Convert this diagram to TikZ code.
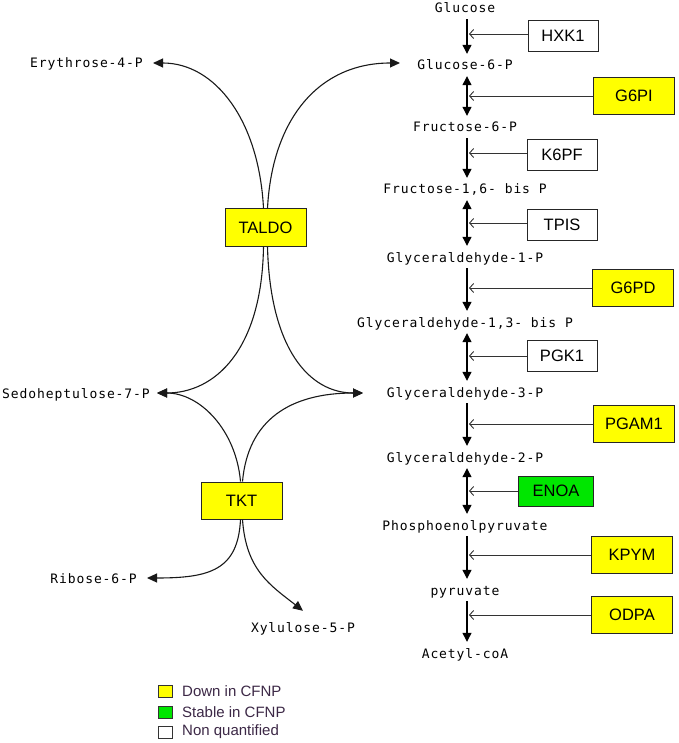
\documentclass[tikz,border=0pt]{standalone}
\usepackage{fontspec}
\setmainfont{Liberation Sans}
\newfontfamily\monof[LetterSpace=7]{DejaVu Sans Mono}
\usetikzlibrary{arrows.meta}
\definecolor{enzyellow}{RGB}{255,255,0}
\definecolor{enzgreen}{RGB}{0,230,0}
\definecolor{legtext}{RGB}{60,40,70}
\tikzset{
  lab/.style={font=\monof\fontsize{13}{15}\selectfont, text height=10pt, text depth=0pt, inner xsep=2pt, inner ysep=6pt},
  ebox/.style={draw=black!85, line width=1pt, fill=white, minimum width=70pt, minimum height=31pt, inner sep=0pt, font=\fontsize{16.5}{18}\selectfont},
  ybox/.style={ebox, fill=enzyellow, minimum width=81pt, minimum height=37pt},
  gbox/.style={ebox, fill=enzgreen, minimum width=75pt, minimum height=30pt},
  flow/.style={line width=1.2pt, -{Triangle[length=9pt,width=9pt]}},
  flowb/.style={line width=1.2pt, {Triangle[length=9pt,width=9pt]}-{Triangle[length=9pt,width=9pt]}},
  enz/.style={draw=black!80, line width=0.9pt, -{Straight Barb[length=4pt,width=9pt]}},
  cv/.style={draw=black!90, line width=1.1pt, -{Triangle[length=10pt,width=9pt]}},
  lsq/.style={draw=black!80, line width=1pt, minimum width=14pt, minimum height=12pt, inner sep=0pt},
  ltx/.style={anchor=west, text=legtext, font=\fontsize{15}{17}\selectfont, inner sep=0pt}
}
\begin{document}
\begin{tikzpicture}[x=1pt,y=-1pt]
\useasboundingbox (0,0) rectangle (678,743);
% axis coordinates
\coordinate (ax) at (467,0);
\coordinate (bx) at (469,0);
% metabolites
\node[lab] (glc) at (465,8) {Glucose};
\node[lab] (g6p) at (465,65) {Glucose-6-P};
\node[lab] (f6p) at (465,127) {Fructose-6-P};
\node[lab] (f16) at (465,189) {Fructose-1,6- bis P};
\node[lab] (g1p) at (465,257) {Glyceraldehyde-1-P};
\node[lab] (g13) at (465,322) {Glyceraldehyde-1,3- bis P};
\node[lab] (g3p) at (465,392) {Glyceraldehyde-3-P};
\node[lab] (g2p) at (465,457) {Glyceraldehyde-2-P};
\node[lab] (pep) at (465,525) {Phosphoenolpyruvate};
\node[lab] (pyr) at (465,590) {pyruvate};
\node[lab] (aco) at (465,653) {Acetyl-coA};
% left metabolites
\node[lab, anchor=east, inner xsep=10pt] (ery) at (153,63) {Erythrose-4-P};
\node[lab, anchor=east, inner xsep=7pt] (sedo) at (157,393) {Sedoheptulose-7-P};
\node[lab, anchor=east, inner xsep=10pt] (rib) at (147,578) {Ribose-6-P};
\node[lab] (xyl) at (303,627) {Xylulose-5-P};
\coordinate (g6pin) at (400,63);
\coordinate (g3pin) at (363,393);
% enzymes
\node[ebox] (hxk) at (563,36) {HXK1};
\node[ybox] (g6pi) at (634,96) {G6PI};
\node[ebox] (k6pf) at (562,155) {K6PF};
\node[ebox] (tpis) at (562,225) {TPIS};
\node[ybox] (g6pd) at (633,288) {G6PD};
\node[ebox] (pgk) at (562,356) {PGK1};
\node[ybox] (pgam) at (634,424) {PGAM1};
\node[gbox] (enoa) at (556,491) {ENOA};
\node[ybox] (kpym) at (632,555) {KPYM};
\node[ybox] (odpa) at (632,615) {ODPA};
\node[ybox] (taldo) at (265.5,227.5) {TALDO};
\node[ybox] (tkt) at (241.5,500.5) {TKT};
% main pathway
\draw[flow]  (glc.south -| ax) -- (g6p.north -| ax);
\draw[flowb] (g6p.south -| ax) -- (f6p.north -| ax);
\draw[flow]  (f6p.south -| ax) -- (f16.north -| ax);
\draw[flowb] (f16.south -| ax) -- (g1p.north -| ax);
\draw[flow]  (g1p.south -| ax) -- (g13.north -| ax);
\draw[flowb] (g13.south -| ax) -- (g3p.north -| ax);
\draw[flow]  (g3p.south -| ax) -- (g2p.north -| ax);
\draw[flowb] (g2p.south -| ax) -- (pep.north -| ax);
\draw[flow]  (pep.south -| ax) -- (pyr.north -| ax);
\draw[flow]  (pyr.south -| ax) -- (aco.north -| ax);
% enzyme connectors
\draw[enz] ([yshift=2pt]hxk.west) -- ([yshift=2pt]hxk.west -| bx);
\draw[enz] (g6pi.west) -- (g6pi.west -| bx);
\draw[enz] ([yshift=2pt]k6pf.west) -- ([yshift=2pt]k6pf.west -| bx);
\draw[enz] ([yshift=2pt]tpis.west) -- ([yshift=2pt]tpis.west -| bx);
\draw[enz] (g6pd.west) -- (g6pd.west -| bx);
\draw[enz] (pgk.west) -- (pgk.west -| bx);
\draw[enz] (pgam.west) -- (pgam.west -| bx);
\draw[enz] (enoa.west) -- (enoa.west -| bx);
\draw[enz] (kpym.west) -- (kpym.west -| bx);
\draw[enz] (odpa.west) -- (odpa.west -| bx);
% pentose phosphate curves
\draw[cv] ([xshift=-2pt]taldo.north) .. controls (259,120) and (215,63) .. (ery.east);
\draw[cv] ([xshift=2pt]taldo.north) .. controls (272,120) and (318,63) .. (g6pin);
\draw[cv] ([xshift=-2pt]taldo.south) .. controls (262,350) and (215,393) .. (sedo.east);
\draw[cv] ([xshift=2pt]taldo.south) .. controls (270,350) and (310,393) .. (g3pin);
\draw[cv] ([xshift=-1pt]tkt.north) .. controls (236,430) and (200,393) .. (sedo.east);
\draw[cv] ([xshift=1pt]tkt.north) .. controls (248,420) and (290,393) .. (g3pin);
\draw[cv] ([xshift=-1pt]tkt.south) .. controls (238,570) and (210,578) .. (rib.east);
\draw[cv] ([xshift=1pt]tkt.south) .. controls (246,570) and (270,585) .. ([yshift=5pt]xyl.north);
% legend
\node[lsq, fill=enzyellow] (l1) at (165,691) {};
\node[lsq, fill=enzgreen] (l2) at (165,712) {};
\node[lsq, fill=white] (l3) at (165,732) {};
\node[ltx] (t1) at (182,691) {Down in CFNP};
\node[ltx] (t2) at (182,712) {Stable in CFNP};
\node[ltx] (t3) at (182,732) {Non quantified};
\end{tikzpicture}
\end{document}
